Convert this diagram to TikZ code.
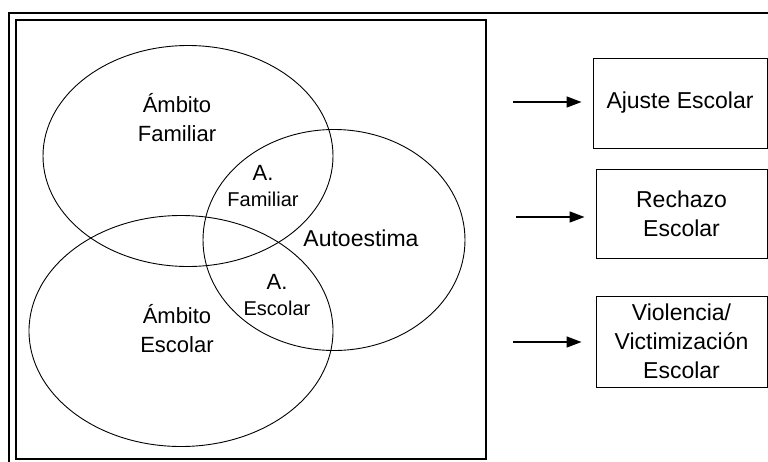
\documentclass[tikz,border=0pt]{standalone}
\usepackage{fontspec}
\setmainfont{Liberation Sans}
\usetikzlibrary{shapes.geometric,arrows.meta}

\tikzset{
	ambito/.style={ellipse, draw, line width=0.9pt, inner sep=0pt},
	etiq/.style={align=center, font=\fontsize{22}{29}\selectfont},
	etiqchica/.style={align=center, font=\fontsize{20}{26}\selectfont},
	caja/.style={rectangle, draw, line width=1pt, align=center, font=\fontsize{23}{29}\selectfont},
	flecha/.style={-{Triangle[length=15pt,width=11pt]}, line width=1.5pt}
}

\begin{document}
\begin{tikzpicture}[x=1pt, y=-1pt]
				\useasboundingbox (0,0) rectangle (768,461);

				% marcos
				\draw[line width=2.7pt] (770,13) -- (9,13) -- (9,463);
				\draw[line width=1.8pt] (16,20) rectangle (486,459);

				% elipses
				\node[ambito, minimum width=290pt, minimum height=221pt] (F) at (188,156) {};
				\node[ambito, minimum width=262pt, minimum height=221pt] (A) at (334,240) {};
				\node[ambito, minimum width=304pt, minimum height=231pt] (E) at (181,331) {};

				% textos de las elipses
				\node[etiq] (tF) at (177,118) {Ámbito\\Familiar};
				\node[etiq] (tE) at (177,329) {Ámbito\\Escolar};
				\node[etiq, font=\fontsize{23}{29}\selectfont] (tA) at (361,238) {Autoestima};
				\node[etiqchica] (tAF) at (263,186) {{\fontsize{22}{26}\selectfont A.}\\Familiar};
				\node[etiqchica] (tAE) at (277,295) {{\fontsize{22}{26}\selectfont A.}\\Escolar};

				% cajas
				\node[caja, minimum width=174pt, minimum height=90pt] (aj) at (680,103) {Ajuste Escolar};
				\node[caja, minimum width=171pt, minimum height=89pt] (re) at (681.5,213.5) {Rechazo\\Escolar};
				\node[caja, minimum width=171pt, minimum height=91pt] (vi) at (681.5,341.5) {Violencia/\\Victimización\\Escolar};

				% flechas
				\coordinate (f1) at (513,102);
				\coordinate (f2) at (516,217);
				\coordinate (f3) at (513,342);
				\draw[flecha, shorten >=11pt] (f1) -- (f1 -| aj.west);
				\draw[flecha, shorten >=11pt] (f2) -- (f2 -| re.west);
				\draw[flecha, shorten >=14pt] (f3) -- (f3 -| vi.west);

\end{tikzpicture}
\end{document}
